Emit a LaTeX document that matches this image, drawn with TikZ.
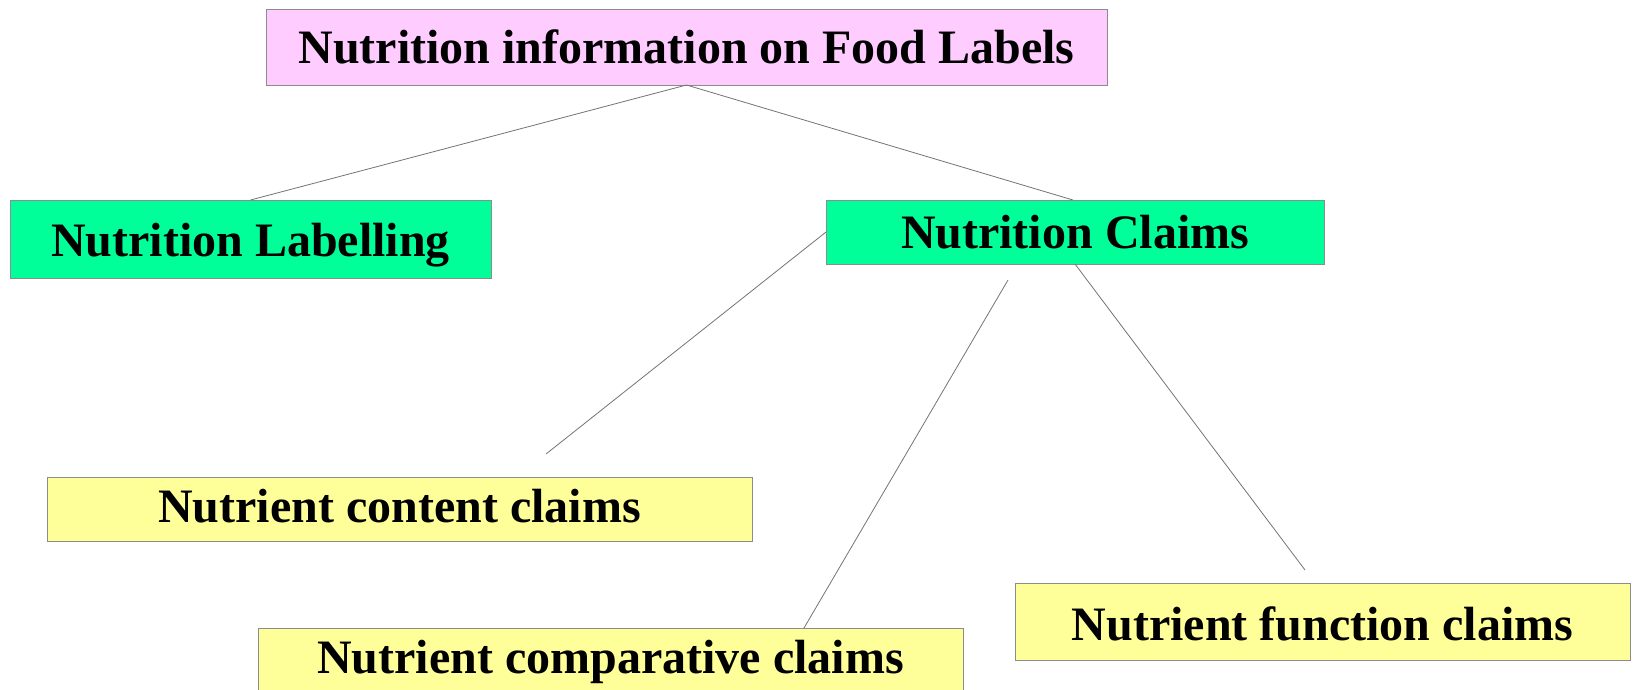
\documentclass[tikz,border=0pt]{standalone}
\usepackage{fontspec}
\setmainfont{Liberation Serif}
\begin{document}
\begin{tikzpicture}[x=1pt,y=-1pt,
  box/.style={draw=black!45,line width=0.8pt,inner sep=0pt,outer sep=0pt,
    font=\fontsize{48}{56}\selectfont\bfseries,align=center,
    text height=36pt,text depth=3pt},
  conn/.style={draw=black!55,line width=0.8pt}]
\definecolor{pinkbox}{HTML}{FFCCFF}
\definecolor{greenbox}{HTML}{00FF99}
\definecolor{yellowbox}{HTML}{FFFF99}
\useasboundingbox (0,0) rectangle (1633,689);
\clip (0,0) rectangle (1633,689);
\node[box,fill=pinkbox,minimum width=841pt,minimum height=76pt] (top) at (686.5,47) {Nutrition information on Food Labels};
\node[box,fill=greenbox,minimum width=481pt,minimum height=78pt,text height=37pt,text depth=2pt] (nl) at (250.5,239) {Nutrition Labelling};
\node[box,fill=greenbox,minimum width=498pt,minimum height=64pt] (nc) at (1075,232) {Nutrition Claims};
\node[box,fill=yellowbox,minimum width=705pt,minimum height=64pt,text height=33pt,text depth=6pt] (ncc) at (399.5,509) {Nutrient content claims};
\node[box,fill=yellowbox,minimum width=705pt,minimum height=64pt,text height=33pt,text depth=6pt] (ncomp) at (610.5,660) {Nutrient comparative claims};
\node[box,fill=yellowbox,minimum width=615pt,minimum height=77pt,text height=38pt,text depth=1pt] (nf) at (1322.5,621.5) {Nutrient function claims};
\coordinate (e1) at (546,454);
\coordinate (e2) at (1008,280);
\coordinate (e3) at (1305,570);
\draw[conn] (top.south) -- (nl.north);
\draw[conn] (top.south) -- ([xshift=-2pt]nc.north);
\draw[conn] (nc.west) -- (e1);
\draw[conn] (e2) -- ([xshift=193.5pt]ncomp.north);
\draw[conn] (nc.south) -- (e3);
\end{tikzpicture}
\end{document}
